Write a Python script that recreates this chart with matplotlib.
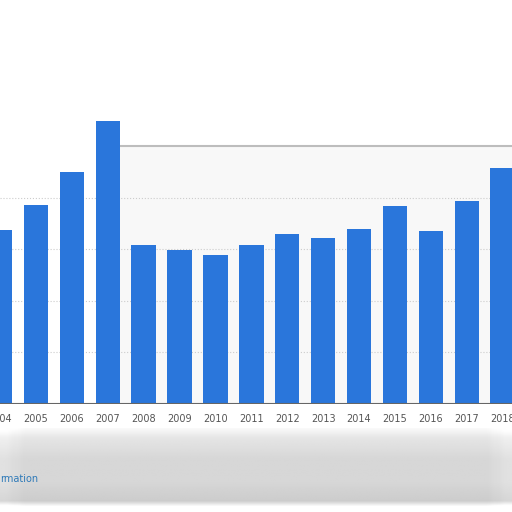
import matplotlib
matplotlib.use('Agg')
import matplotlib.pyplot as plt
import numpy as np

# Dados (unidade = uma linha de grade)
anos = ['2004', '2005', '2006', '2007', '2008', '2009', '2010', '2011',
        '2012', '2013', '2014', '2015', '2016', '2017', '2018']
valores = [3.37, 3.86, 4.50, 5.49, 3.09, 2.98, 2.88, 3.09,
           3.29, 3.22, 3.40, 3.84, 3.36, 3.93, 4.57]
grade = [1, 2, 3, 4]

W = 512
fig = plt.figure(figsize=(5.12, 5.12), dpi=100)
fig.patch.set_facecolor('white')

# faixa cinza borrada no rodapé (degradê vertical, de baixo para cima)
fundo = fig.add_axes([0, 1 - 506 / W, 1, (506 - 428) / W], zorder=0)
pos = np.array([0, 0.06, 0.3, 0.6, 0.88, 1.0])
tons = np.array([0.97, 0.80, 0.84, 0.84, 0.90, 0.98])
yy = np.linspace(0, 1, 80)
col = np.interp(yy, pos, tons)
img = np.repeat(col[:, None], 50, axis=1)
xx = np.linspace(0, 1, 50)
img = img + 0.04 * (1 - np.minimum(1, np.minimum(xx, 1 - xx) * 25))[None, :]
fundo.imshow(np.clip(img, 0, 1), cmap='gray', vmin=0, vmax=1,
             aspect='auto', origin='lower', extent=[0, 1, 0, 1])
fundo.axis('off')

base = 404
unidade = 51.6
ymax = 5.6
ax = fig.add_axes([0, (W - base) / W, 1, ymax * unidade / W], zorder=1)
ax.set_facecolor('none')

x = list(range(len(anos)))
ax.bar(x, valores, width=0.68, color='#2a76db', zorder=3)

# fundo do gráfico e linha superior
ax.axhspan(0, 5, xmin=0.23, color='#f8f8f8', zorder=0)
ax.plot([3.35, 14.3], [5, 5], color='#bdbdbd', lw=1.5, zorder=2)
for g in grade:
    ax.axhline(g, color='#cccccc', lw=0.8, ls=':', zorder=1)
ax.axhline(0, color='#666666', lw=1.5, zorder=4)

ax.set_xlim(0.078, 14.26)
ax.set_ylim(0, ymax)
ax.set_xticks(x)
ax.set_xticklabels(anos, fontsize=7, color='#555555')
ax.tick_params(axis='x', length=0, pad=7)
ax.set_yticks([])
for s in ax.spines.values():
    s.set_visible(False)

fig.text(0, 1 - 479 / W, 'rmation', fontsize=7, color='#2f7ab8',
         va='center', ha='left', zorder=5)

fig.savefig('out.png', dpi=100)
